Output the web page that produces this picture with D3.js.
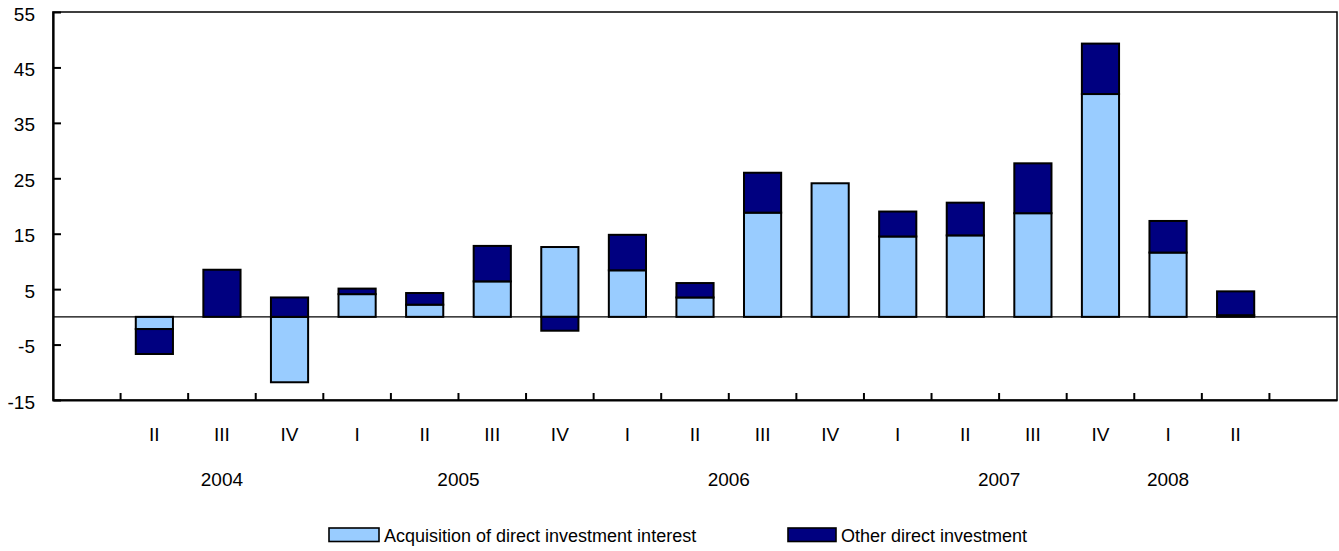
<!DOCTYPE html>
<html>
<head>
<meta charset="utf-8">
<script src="https://cdn.jsdelivr.net/npm/d3@7"></script>
<style>
    html, body { margin: 0; padding: 0; background: #fff; }
    svg { display: block; }
    text { font-family: "Liberation Sans", Arial, Helvetica, sans-serif; fill: #000; }
</style>
</head>
<body>
<svg id="chart" width="1339" height="551"></svg>
<script>

// Data (first and last slots are empty, as in the original axis)
const categories = ['2004-I', '2004-II', '2004-III', '2004-IV',
    '2005-I', '2005-II', '2005-III', '2005-IV',
    '2006-I', '2006-II', '2006-III', '2006-IV',
    '2007-I', '2007-II', '2007-III', '2007-IV',
    '2008-I', '2008-II', '2008-III'];
const quarterLabels = ['', 'II', 'III', 'IV', 'I', 'II', 'III', 'IV', 'I', 'II', 'III', 'IV',
    'I', 'II', 'III', 'IV', 'I', 'II', ''];
const acquisition = [0, -2.2, 0, -11.8, 4.1, 2.2, 6.4, 12.6, 8.4, 3.5, 18.8, 24.1,
    14.5, 14.7, 18.7, 40.2, 11.6, 0.3, 0];
const otherDirect = [0, -4.5, 8.5, 3.5, 1.0, 2.1, 6.4, -2.5, 6.4, 2.6, 7.2, 0,
    4.5, 5.9, 9.0, 9.1, 5.7, 4.3, 0];
const years = ['2004', '2005', '2006', '2007', '2008'];
const yearFrom = ['2004-II', '2005-I', '2006-I', '2007-I', '2008-I'];
const yearTo = ['2004-IV', '2005-IV', '2006-IV', '2007-IV', '2008-I'];
const yTicks = [55, 45, 35, 25, 15, 5, -5, -15];
const seriesNames = ['Acquisition of direct investment interest', 'Other direct investment'];

// Configs
const configs = {
    left: 53,
    right: 1337,
    top: 12,
    bottom: 400,
    axisFont: 19,
    legendFont: 18,
    barRatio: 0.55,
    colors: ['#99ccff', '#000080']
};

const svg = d3.select('#chart');

// Scales
const x = d3.scaleBand()
    .domain(categories)
    .range([configs.left, configs.right]);
const y = d3.scaleLinear()
    .domain([-15, 55])
    .range([configs.bottom, configs.top]);

// Text helper
function label(g, str, px, py, anchor, size) {
    return g.append('text')
        .attr('x', px)
        .attr('y', py)
        .attr('text-anchor', anchor)
        .style('font-size', (size || configs.axisFont) + 'px')
        .text(str);
}

// Stack
const table = categories.map((c, i) => ({ cat: c, a: acquisition[i], o: otherDirect[i] }));
const stacked = d3.stack()
    .keys(['a', 'o'])
    .offset(d3.stackOffsetDiverging)(table);

// Bars
const bw = x.bandwidth() * configs.barRatio;
const layers = svg.append('g').selectAll('g')
    .data(stacked)
    .join('g')
    .attr('fill', (d, i) => configs.colors[i]);

layers.selectAll('rect')
    .data(d => d.filter(s => s[1] !== s[0]))
    .join('rect')
    .attr('x', d => x(d.data.cat) + (x.bandwidth() - bw) / 2)
    .attr('y', d => y(Math.max(d[0], d[1])))
    .attr('width', bw)
    .attr('height', d => Math.abs(y(d[0]) - y(d[1])))
    .attr('stroke', '#000')
    .attr('stroke-width', 2);

// Zero line
svg.append('line')
    .attr('x1', configs.left).attr('x2', configs.right)
    .attr('y1', y(0)).attr('y2', y(0))
    .attr('stroke', '#000')
    .attr('stroke-width', 1.4);

// Frame
svg.append('rect')
    .attr('x', configs.left).attr('y', configs.top)
    .attr('width', configs.right - configs.left)
    .attr('height', configs.bottom - configs.top)
    .attr('fill', 'none')
    .attr('stroke', '#000')
    .attr('stroke-width', 1.5);

// Y axis
const yAxis = svg.append('g')
    .attr('transform', `translate(${configs.left},0)`)
    .call(d3.axisRight(y).tickValues(yTicks).tickSize(8).tickFormat(''));
yAxis.select('.domain').attr('stroke-width', 2.2);
yAxis.selectAll('.tick line').attr('stroke-width', 2);
yAxis.selectAll('.tick').filter(d => d === 55 || d === -15).select('line').remove();
yTicks.forEach(t => label(svg, t, 35, y(t) + 8.5, 'end'));

// X axis - ticks between categories
const xAxis = svg.append('g')
    .attr('transform', `translate(0,${configs.bottom})`)
    .call(d3.axisTop(x).tickValues(categories.slice(1)).tickSize(7).tickFormat('').tickSizeOuter(0));
xAxis.selectAll('.tick').attr('transform', d => `translate(${x(d)},0)`);
xAxis.select('.domain').attr('stroke-width', 2.2);
xAxis.selectAll('.tick line').attr('stroke-width', 2);

// Quarter labels
categories.forEach((c, i) => {
    if (quarterLabels[i]) label(svg, quarterLabels[i], x(c) + x.bandwidth() / 2, 440.5, 'middle');
});

// Year labels
years.forEach((yr, i) => {
    const cx = (x(yearFrom[i]) + x(yearTo[i]) + x.bandwidth()) / 2;
    label(svg, yr, cx, 486, 'middle');
});

// Legend
const legend = svg.append('g');
const legendX = [329, 788];
const swatchW = [50, 48];
seriesNames.forEach((name, i) => {
    legend.append('rect')
        .attr('x', legendX[i]).attr('y', 528)
        .attr('width', swatchW[i]).attr('height', 13.5)
        .attr('fill', configs.colors[i])
        .attr('stroke', '#000')
        .attr('stroke-width', 1.6);
    label(legend, name, legendX[i] + swatchW[i] + 5, 542, 'start', configs.legendFont);
});

</script>
</body>
</html>
